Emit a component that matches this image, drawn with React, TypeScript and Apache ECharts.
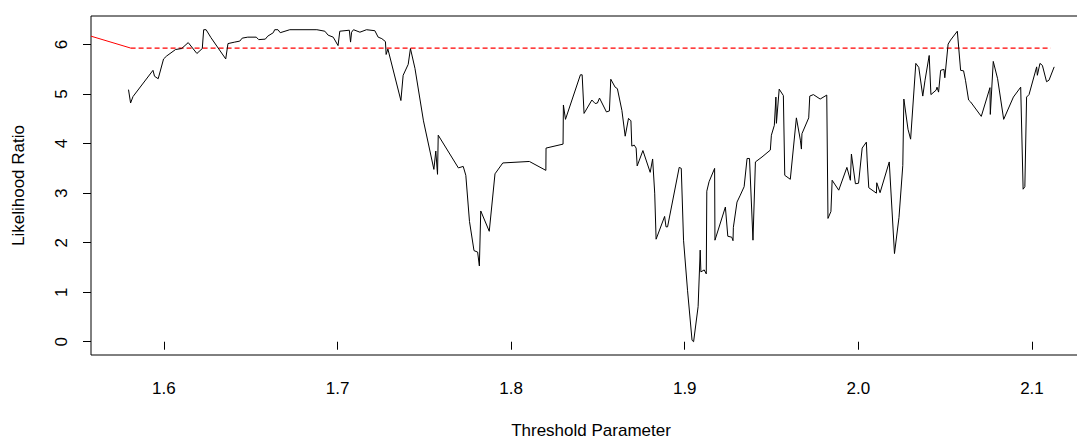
import React, { useEffect, useRef } from "react";
import * as echarts from "echarts";

// Threshold parameter (x) and likelihood ratio (y) of the profile curve
const thresholdX = [
  1.5796, 1.5808, 1.5822, 1.5937, 1.5946, 1.5967, 1.5998, 1.6016, 1.6067, 1.6102,
  1.614, 1.619, 1.6221, 1.6229, 1.6243, 1.6271, 1.6356, 1.6369, 1.6408, 1.6437,
  1.6451, 1.6483, 1.6532, 1.6546, 1.6584, 1.6598, 1.663, 1.6638, 1.6657, 1.667,
  1.6725, 1.6881, 1.6927, 1.6946, 1.6975, 1.7003, 1.7013, 1.7068, 1.7075, 1.7081,
  1.7092, 1.7129, 1.7167, 1.7215, 1.7234, 1.7255, 1.7276, 1.728, 1.729,
  1.7365, 1.7378, 1.7407, 1.742, 1.7446, 1.7495, 1.7555, 1.7566, 1.7576, 1.758,
  1.7696, 1.7724, 1.7739, 1.776, 1.7786, 1.7807, 1.7817, 1.7825, 1.7874, 1.7907,
  1.7952, 1.8105, 1.82, 1.8201, 1.8299, 1.8301, 1.8313, 1.8399, 1.8409, 1.842,
  1.8465, 1.8484, 1.8497, 1.8509, 1.8549, 1.8566, 1.8574, 1.8599, 1.8612, 1.8638,
  1.8657, 1.8676, 1.869, 1.8695, 1.8709, 1.872, 1.8726, 1.8759, 1.8801, 1.8815,
  1.8827, 1.8835, 1.8884, 1.8892, 1.8901, 1.8968, 1.898, 1.8993, 1.9016, 1.9042,
  1.9051, 1.9077, 1.9089, 1.9093, 1.9112, 1.9124, 1.9127, 1.914, 1.9172, 1.9174,
  1.9234, 1.9248, 1.9271, 1.9278, 1.928, 1.9301, 1.932, 1.9342, 1.9359, 1.9373,
  1.9393, 1.9407, 1.9445, 1.9493, 1.9499, 1.9516, 1.9525, 1.9528, 1.9544, 1.9568,
  1.9576, 1.9608, 1.9643, 1.9666, 1.9672, 1.9675, 1.9714, 1.972, 1.9741, 1.978,
  1.9818, 1.9825, 1.9842, 1.9849, 1.9887, 1.9934, 1.9954, 1.996, 1.9983, 2.0001,
  2.0022, 2.0046, 2.0051, 2.006, 2.0104, 2.0106, 2.0125, 2.0178, 2.0208, 2.0234,
  2.0256, 2.0262, 2.0286, 2.0301, 2.0331, 2.0348, 2.0371, 2.0384, 2.0408, 2.0418,
  2.0448, 2.0453, 2.0462, 2.0474, 2.0493, 2.0498, 2.0517, 2.0531, 2.057, 2.0589,
  2.0606, 2.0617, 2.0635, 2.0647, 2.0708, 2.0758, 2.076, 2.0777, 2.0802, 2.0837,
  2.0893, 2.0935, 2.0949, 2.0959, 2.0969, 2.0983, 2.1027, 2.1031, 2.1046, 2.106,
  2.1084, 2.1098, 2.1128,
];

const likelihoodRatio = [
  5.09, 4.82, 4.95, 5.48, 5.36, 5.31, 5.71, 5.77, 5.9, 5.92,
  6.04, 5.82, 5.92, 6.3, 6.3, 6.14, 5.71, 6.02, 6.05, 6.07,
  6.13, 6.15, 6.15, 6.1, 6.11, 6.17, 6.24, 6.3, 6.3, 6.24,
  6.3, 6.3, 6.27, 6.19, 6.15, 5.98, 6.27, 6.29, 6.05, 6.25,
  6.3, 6.25, 6.3, 6.28, 6.15, 6.12, 6.06, 5.8, 5.91,
  4.87, 5.38, 5.6, 5.92, 5.52, 4.46, 3.48, 3.85, 3.38, 4.17,
  3.51, 3.54, 3.36, 2.43, 1.84, 1.81, 1.53, 2.64, 2.23, 3.39,
  3.61, 3.64, 3.46, 3.91, 3.99, 4.78, 4.49, 5.39, 5.39, 4.61,
  4.88, 4.81, 4.82, 4.92, 4.64, 4.66, 5.3, 5.14, 5.11, 4.67,
  4.15, 4.51, 4.46, 3.95, 3.97, 3.91, 3.55, 3.86, 3.42, 3.69,
  3.0, 2.07, 2.53, 2.32, 2.32, 3.52, 3.5, 2.05, 1.04, 0.03,
  0.0, 0.71, 1.85, 1.41, 1.45, 1.37, 3.04, 3.23, 3.5, 2.05,
  2.72, 2.13, 2.11, 2.04, 2.31, 2.82, 2.96, 3.13, 3.7, 3.7,
  2.05, 3.63, 3.73, 3.87, 4.17, 4.37, 4.94, 4.41, 5.1, 4.97,
  3.36, 3.28, 4.52, 4.07, 3.89, 4.2, 4.52, 4.96, 4.99, 4.9,
  4.98, 2.49, 2.63, 3.26, 3.06, 3.52, 3.26, 3.79, 3.19, 3.2,
  3.91, 4.03, 3.65, 3.11, 3.0, 3.21, 3.01, 3.63, 1.78, 2.51,
  3.56, 4.9, 4.29, 4.09, 5.62, 5.54, 4.96, 5.28, 5.78, 4.99,
  5.08, 5.14, 5.04, 5.48, 5.5, 5.33, 6.01, 6.09, 6.27, 5.48,
  5.47, 5.28, 4.88, 4.84, 4.55, 5.13, 4.59, 5.66, 5.31, 4.49,
  4.94, 5.14, 3.08, 3.13, 4.94, 4.99, 5.55, 5.38, 5.62, 5.58,
  5.25, 5.28, 5.55,
];

// Red reference curve: solid part, then dashed critical value
const redSolidX = [1.558, 1.5808];
const redSolidY = [6.17, 5.93];
const criticalX = [1.5808, 2.1108];
const criticalY = [5.93, 5.93];

const xTicks = [1.6, 1.7, 1.8, 1.9, 2.0, 2.1];
const yTicks = [0, 1, 2, 3, 4, 5, 6];

const FONT = "'Liberation Sans', Arial, Helvetica, sans-serif";

export default function App() {
  const ref = useRef<HTMLDivElement>(null);

  useEffect(() => {
    if (!ref.current) return;
    const chart = echarts.init(ref.current, undefined, { renderer: "svg" });
    const zip = (xs: number[], ys: number[]) => xs.map((x, i) => [x, ys[i]]);

    chart.setOption({
      animation: false,
      backgroundColor: "#ffffff",
      grid: {
        left: 91,
        top: 16,
        right: 9,
        bottom: 84,
        outerBoundsMode: "none",
        containLabel: false,
        show: true,
        borderColor: "#000000",
        borderWidth: 1,
        backgroundColor: "transparent",
      },
      xAxis: {
        type: "value",
        min: 1.558,
        max: 2.134,
        name: "Threshold Parameter",
        nameLocation: "middle",
        nameGap: 67,
        nameTextStyle: { fontFamily: FONT, fontSize: 17, color: "#000" },
        axisLine: { show: false },
        splitLine: { show: false },
        axisTick: {
          show: true,
          length: 8,
          customValues: xTicks,
          lineStyle: { color: "#000", width: 1 },
        },
        axisLabel: {
          customValues: xTicks,
          margin: 25,
          fontFamily: FONT,
          fontSize: 17,
          color: "#000",
          formatter: (v: number) => v.toFixed(1),
        },
      },
      yAxis: {
        type: "value",
        min: -0.268,
        max: 6.577,
        name: "Likelihood Ratio",
        nameLocation: "middle",
        nameGap: 64,
        nameRotate: 90,
        nameTextStyle: { fontFamily: FONT, fontSize: 17, color: "#000" },
        axisLine: { show: false },
        splitLine: { show: false },
        axisTick: {
          show: true,
          length: 8,
          customValues: yTicks,
          lineStyle: { color: "#000", width: 1 },
        },
        axisLabel: {
          customValues: yTicks,
          rotate: 90,
          margin: 21,
          fontFamily: FONT,
          fontSize: 17,
          color: "#000",
          formatter: (v: number) => String(Math.round(v)),
        },
      },
      series: [
        {
          type: "line",
          data: zip(redSolidX, redSolidY),
          showSymbol: false,
          symbol: "none",
          lineStyle: { color: "#ff0000", width: 1 },
          silent: true,
          z: 2,
        },
        {
          type: "line",
          data: zip(criticalX, criticalY),
          showSymbol: false,
          symbol: "none",
          lineStyle: { color: "#ff0000", width: 1.3, type: [5, 3] },
          silent: true,
          z: 2,
        },
        {
          type: "line",
          data: zip(thresholdX, likelihoodRatio),
          showSymbol: false,
          symbol: "none",
          lineStyle: { color: "#000000", width: 1 },
          silent: true,
          z: 3,
        },
      ],
    });

    return () => chart.dispose();
  }, []);

  return (
    <div
      style={{
        position: "fixed",
        left: 0,
        top: 0,
        width: 1077,
        height: 439,
        overflow: "hidden",
        background: "#fff",
      }}
    >
      <div ref={ref} style={{ width: 1100, height: 439 }} />
    </div>
  );
}
